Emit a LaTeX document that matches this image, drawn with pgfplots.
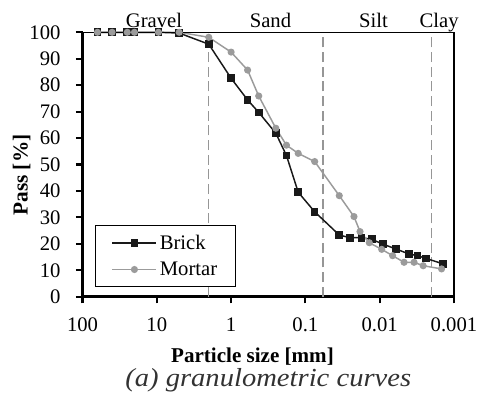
\documentclass[border=0pt]{standalone}
\usepackage{fontspec}
\setmainfont{Liberation Serif}
\newfontfamily\capfont[FakeStretch=1.1]{Liberation Serif}
\usepackage{pgfplots}
\pgfplotsset{compat=1.18}
\definecolor{mgray}{RGB}{155,155,155}
\definecolor{dgray}{RGB}{150,150,150}
\definecolor{capgray}{RGB}{50,50,50}
\pgfplotstableread{
x y
63 100
40 100
25 100
20 100
9.5 100
5 99.7
2 95.5
1 82.6
0.6 74.4
0.425 69.7
0.25 61.8
0.18 53.4
0.125 39.5
0.075 32.1
0.035 23.3
0.025 22.3
0.0175 22.3
0.0128 21.7
0.0091 19.9
0.006 18.0
0.004 16.1
0.0031 15.5
0.0024 14.5
0.0014 12.4
}\brick
\pgfplotstableread{
x y
63 100
40 100
25 100
20 100
9.5 100
5 100
2 98.1
1 92.5
0.6 85.7
0.425 75.9
0.25 63.7
0.18 57.3
0.125 54.2
0.075 51.1
0.035 38.2
0.0222 30.3
0.0184 24.6
0.0138 20.4
0.0094 17.9
0.0067 15.5
0.0047 13.0
0.00345 13.0
0.0026 11.7
0.00147 10.5
}\mortar
\begin{document}
\begin{tikzpicture}
\begin{axis}[
  scale only axis,
  width=278.6pt, height=198.3pt,
  xmode=log, x dir=reverse,
  xmin=0.001, xmax=100,
  ymin=0, ymax=100,
  xtick={100,10,1,0.1,0.01,0.001},
  xticklabels={100,10,1,0.1,0.01,0.001},
  ytick={0,10,...,100},
  minor xtick={}, minor ytick={},
  axis lines=left,
  axis line style={-, line width=1.8pt, black},
  tick style={line width=1.6pt, black},
  tick align=outside,
  major tick length=5pt,
  xtick pos=bottom, ytick pos=left,
  /pgf/number format/assume math mode=true,
  ticklabel style={font=\fontsize{15.5}{15.5}\selectfont},
  yticklabel style={xshift=-8pt},
  xticklabel style={yshift=-7pt},
  legend style={at={(rel axis cs:0.034,0.036)}, anchor=south west, draw=black, line width=0.8pt,
    font=\fontsize{15.5}{17}\selectfont, inner xsep=12pt, inner ysep=5pt, row sep=4pt,
    nodes={inner sep=2pt}},
  legend cell align=left,
  legend image code/.code={\draw[mark repeat=2,mark phase=2] plot coordinates {(0cm,0cm) (0.58cm,0cm) (1.16cm,0cm)};},
  clip=false,
]
\addplot[dgray, line width=0.9pt, dash pattern=on 7.5pt off 3.5pt, forget plot] coordinates {(2,0) (2,100)};
\addplot[dgray, line width=0.9pt, dash pattern=on 7.5pt off 3.5pt, forget plot] coordinates {(0.058,0) (0.058,100)};
\addplot[dgray, line width=0.9pt, dash pattern=on 7.5pt off 3.5pt, forget plot] coordinates {(0.002,0) (0.002,100)};
\addplot[black!90, line width=1.1pt, mark=square*, mark size=2.3pt, mark options={solid, fill=black!90}] table {\brick};
\addlegendentry{Brick\hspace{9pt}}
\addplot[mgray, line width=1.1pt, mark=*, mark size=2.1pt, mark options={solid, fill=mgray}] table {\mortar};
\addlegendentry{Mortar\hspace{9pt}}
\draw[line width=0.8pt] (rel axis cs:0,1) -- (rel axis cs:1,1) -- (rel axis cs:1,0);
\node[anchor=base, font=\fontsize{15.5}{15.5}\selectfont] at (rel axis cs:0.1925,1) [yshift=3.8pt] {Gravel};
\node[anchor=base, font=\fontsize{15.5}{15.5}\selectfont] at (rel axis cs:0.506,1) [yshift=3.8pt] {Sand};
\node[anchor=base, font=\fontsize{15.5}{15.5}\selectfont] at (rel axis cs:0.783,1) [yshift=3.8pt] {Silt};
\node[anchor=base, font=\fontsize{15.5}{15.5}\selectfont] at (rel axis cs:0.960,1) [yshift=3.8pt] {Clay};
\node[anchor=base, font=\fontsize{15.8}{15.8}\selectfont\bfseries] at (rel axis cs:0.4576,0) [yshift=-49.5pt] {Particle size [mm]};
\node[xshift=-45.6pt, rotate=90, anchor=center, font=\fontsize{16}{16}\selectfont\bfseries] at (rel axis cs:0,0.46) {Pass [\%]};
\node[anchor=base, font=\capfont\fontsize{19.5}{19.5}\selectfont\itshape, text=capgray] at (rel axis cs:0.5,0) [yshift=-67.5pt] {(a) granulometric curves};
\end{axis}
\pgfresetboundingbox
\useasboundingbox (-61.9pt,-73pt) rectangle (298.1pt,222.5pt);
\end{tikzpicture}
\end{document}
